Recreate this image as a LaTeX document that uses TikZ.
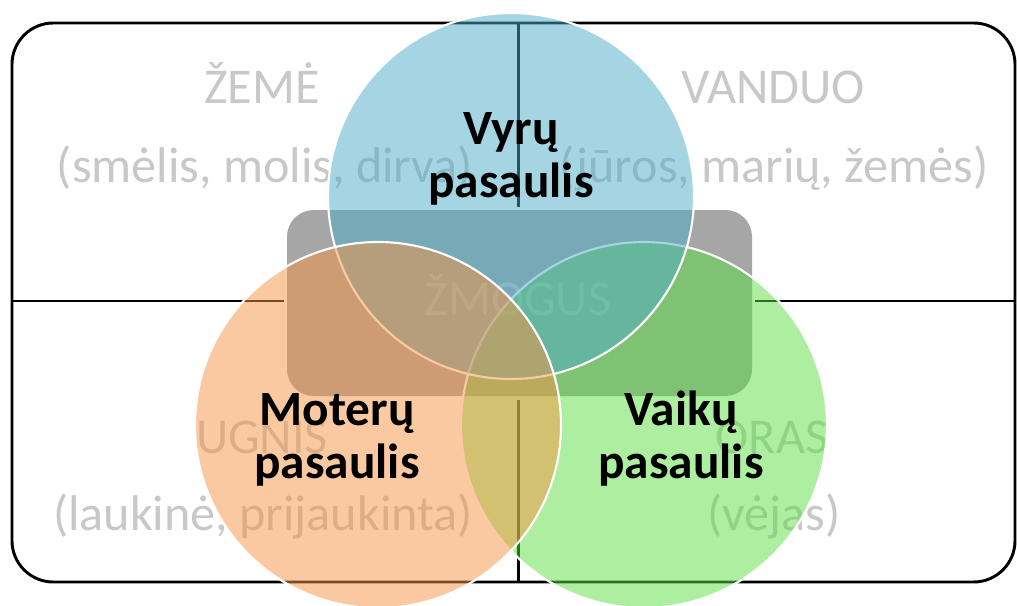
\documentclass[tikz,border=0pt]{standalone}
\usepackage{fontspec}
\setmainfont{Carlito}
\definecolor{cblue}{RGB}{75,172,198}
\definecolor{corange}{RGB}{245,148,68}
\definecolor{cgreen}{RGB}{92,222,66}
\definecolor{qgray}{RGB}{200,200,200}
\definecolor{rgray}{RGB}{166,166,166}
\tikzset{
  qtext/.style={text=qgray, font=\fontsize{37.6}{42}\selectfont, anchor=base, inner sep=0pt},
  wtext/.style={text=black, font=\fontsize{37}{42}\selectfont\bfseries, anchor=base, inner sep=0pt},
  world/.style={circle, minimum size=274.5pt, inner sep=0pt, draw=white, line width=1.6pt, fill opacity=0.5},
  gridline/.style={black, line width=1.8pt},
}
\begin{document}
\begin{tikzpicture}[x=0.75pt, y=-0.75pt]
\useasboundingbox (0,0) rectangle (1017,606);
% frame
\draw[black, line width=2.2pt, rounded corners=31pt] (12,23) rectangle (1015,582);
% cross lines
\coordinate (hl1) at (12,301);
\coordinate (hl2) at (284,301);
\coordinate (hr1) at (755,301);
\coordinate (hr2) at (1015,301);
\coordinate (vt1) at (518.5,23);
\coordinate (vt2) at (518.5,207);
\coordinate (vb1) at (518.5,400);
\coordinate (vb2) at (518.5,582);
\draw[gridline] (hl1) -- (hl2);
\draw[gridline] (hr1) -- (hr2);
\draw[gridline] (vt1) -- (vt2);
\draw[gridline] (vb1) -- (vb2);
% centre box
\node (box) [fill=rgray, rounded corners=20pt, minimum width=348.75pt, minimum height=139.5pt, inner sep=0pt] at (519.5,303) {};
% quadrant texts
\node (zeme) [qtext] at (262,104) {ŽEMĖ};
\node (zemed) [qtext] at (265,182) {(smėlis, molis, dirva)};
\node (vand) [qtext] at (773,104) {VANDUO};
\node (vandd) [qtext] at (774,182) {(jūros, marių, žemės)};
\node (ugnis) [qtext] at (262,453) {UGNIS};
\node (ugnisd) [qtext] at (263,530) {(laukinė, prijaukinta)};
\node (oras) [qtext] at (772,453) {ORAS};
\node (orasd) [qtext] at (774,530) {(vėjas)};
\node (zmog) [qtext] at (518,315) {ŽMOGUS};
% circles
\node (green) [world, fill=cgreen] at (644,425) {};
\node (blue) [world, fill=cblue] at (511,196) {};
\node (orange) [world, fill=corange] at (378,425) {};
% labels
\node (vyr1) [wtext] at (511,145) {Vyrų};
\node (vyr2) [wtext] at (511,198) {pasaulis};
\node (mot1) [wtext] at (337,425) {Moterų};
\node (mot2) [wtext] at (337,478) {pasaulis};
\node (vai1) [wtext] at (681,425) {Vaikų};
\node (vai2) [wtext] at (681,478) {pasaulis};
\end{tikzpicture}
\end{document}
